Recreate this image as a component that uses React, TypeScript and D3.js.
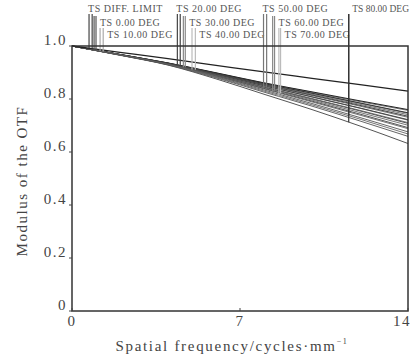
import * as d3 from "d3";

// spatial frequency samples (cycles/mm)
const freqs = [0, 2, 4, 6, 8, 10, 12, 14];

// diffraction limit
const diffLimit = [1, 0.976, 0.952, 0.927, 0.902, 0.878, 0.854, 0.83];

// field angles shown in the legend
const fieldLabels = [
  "TS 0.00 DEG", "TS 10.00 DEG", "TS 20.00 DEG", "TS 30.00 DEG", "TS 40.00 DEG",
  "TS 50.00 DEG", "TS 60.00 DEG", "TS 70.00 DEG", "TS 80.00 DEG",
];

// tangential MTF per field
const tangential = [
  [1, 0.968, 0.936, 0.899, 0.861, 0.827, 0.793, 0.76],
  [1, 0.968, 0.935, 0.897, 0.858, 0.822, 0.785, 0.748],
  [1, 0.967, 0.934, 0.895, 0.854, 0.815, 0.776, 0.735],
  [1, 0.967, 0.933, 0.893, 0.85, 0.808, 0.766, 0.722],
  [1, 0.967, 0.932, 0.89, 0.845, 0.8, 0.755, 0.708],
  [1, 0.966, 0.931, 0.887, 0.84, 0.792, 0.743, 0.692],
  [1, 0.966, 0.93, 0.884, 0.834, 0.783, 0.73, 0.676],
  [1, 0.966, 0.929, 0.88, 0.826, 0.773, 0.717, 0.659],
  [1, 0.965, 0.928, 0.876, 0.818, 0.76, 0.698, 0.632],
];

// sagittal MTF per field
const sagittal = [
  [1, 0.968, 0.936, 0.898, 0.86, 0.825, 0.79, 0.757],
  [1, 0.968, 0.935, 0.897, 0.858, 0.821, 0.784, 0.746],
  [1, 0.968, 0.935, 0.896, 0.856, 0.818, 0.78, 0.741],
  [1, 0.967, 0.934, 0.895, 0.853, 0.813, 0.773, 0.731],
  [1, 0.967, 0.933, 0.893, 0.85, 0.808, 0.765, 0.72],
  [1, 0.967, 0.932, 0.891, 0.846, 0.802, 0.757, 0.711],
  [1, 0.967, 0.932, 0.889, 0.843, 0.796, 0.749, 0.701],
  [1, 0.966, 0.931, 0.886, 0.838, 0.789, 0.739, 0.688],
  [1, 0.966, 0.93, 0.882, 0.83, 0.778, 0.724, 0.668],
];

// frequencies where the legend marker lines hang (T, S)
const diffMarker = [0.71, 0.84];
const markerT = [0.92, 1.17, 4.39, 4.64, 5.0, 7.98, 8.36, 8.62, 11.53];
const markerS = [1.0, 1.3, 4.51, 4.72, 5.14, 8.11, 8.44, 8.69, 11.53];
const markerColors = ["#555", "#aaa", "#444", "#888", "#bbb", "#777", "#888", "#bbb", "#333"];

const xTicks = [0, 7, 14];
const yTicks = [0, 0.2, 0.4, 0.6, 0.8, 1.0];

const W = 411;
const H = 358;
const serif = "'Liberation Serif', 'Times New Roman', serif";

export default function App() {
  const x = d3.scaleLinear().domain([0, 14]).range([72, 408]);
  const y = d3.scaleLinear().domain([0, 1]).range([311, 46]);

  const line = d3
    .line<number>()
    .x((_, i) => x(freqs[i]))
    .y((d) => y(d))
    .curve(d3.curveMonotoneX);

  // value of a curve at a given frequency
  const at = (vals: number[], f: number) => d3.scaleLinear().domain(freqs).range(vals)(f);

  // legend rows: y of each row's baseline
  const rowY = [12, 26, 38];

  const legend = [
    { text: "TS DIFF. LIMIT", t: diffMarker[0], s: diffMarker[1], tv: diffLimit, sv: diffLimit, color: "#444", row: 0 },
    ...fieldLabels.map((text, i) => ({
      text,
      t: markerT[i],
      s: markerS[i],
      tv: tangential[i],
      sv: sagittal[i],
      color: markerColors[i],
      row: i === 8 ? 0 : (i + 1) % 3,
    })),
  ];

  const curveColors = ["#222", "#333", "#444", "#444", "#555", "#555", "#666", "#666", "#555"];

  return (
    <svg
      width={W}
      height={H}
      style={{ position: "absolute", left: 0, top: 0, background: "#fff" }}
      fontFamily={serif}
    >
      {/* MTF curves */}
      {sagittal.map((d, i) => (
        <path key={"s" + i} d={line(d) || ""} fill="none" stroke="#777" strokeWidth={1} />
      ))}
      {tangential.map((d, i) => (
        <path key={"t" + i} d={line(d) || ""} fill="none" stroke={curveColors[i]} strokeWidth={1} />
      ))}
      <path d={line(diffLimit) || ""} fill="none" stroke="#222" strokeWidth={1.3} />

      {/* legend markers and labels */}
      {legend.map((l, i) => {
        const xt = x(l.t);
        const last = i === legend.length - 1;
        const tx = last ? W - 2 : l.row === 0 ? xt - 1 : x(l.s) + 4;
        const top = l.row === 0 ? rowY[0] + 2 : rowY[l.row] - 10;
        return (
          <g key={"lg" + i}>
            <line x1={xt} x2={xt} y1={top} y2={y(at(l.tv, l.t))} stroke={l.color} strokeWidth={1.2} />
            <line x1={x(l.s)} x2={x(l.s)} y1={top} y2={y(at(l.sv, l.s))} stroke={l.color} strokeWidth={1.2} />
            <text
              x={tx}
              y={rowY[l.row]}
              fontSize={last ? 9.5 : 10}
              letterSpacing={last ? 0 : 0.5}
              textAnchor={last ? "end" : "start"}
              fill="#555"
            >
              {l.text}
            </text>
          </g>
        );
      })}

      {/* frame */}
      <rect x={72} y={46} width={336} height={265} fill="none" stroke="#333" strokeWidth={1.5} />

      {/* y ticks */}
      {yTicks.map((t) => (
        <g key={"y" + t}>
          <line x1={69} x2={72} y1={y(t)} y2={y(t)} stroke="#444" />
          <text x={67} y={y(t) - 1} textAnchor="end" fontSize={15} letterSpacing={1.5} fill="#444">
            {t === 0 ? "0" : t.toFixed(1)}
          </text>
        </g>
      ))}

      {/* x ticks */}
      {xTicks.map((t) => (
        <g key={"x" + t}>
          <line x1={x(t)} x2={x(t)} y1={311} y2={308} stroke="#444" />
          <text
            x={t === 14 ? 411 : x(t)}
            y={326}
            textAnchor={t === 14 ? "end" : "middle"}
            fontSize={15}
            letterSpacing={1.5}
            fill="#444"
          >
            {t}
          </text>
        </g>
      ))}

      {/* axis titles */}
      <text x={232} y={351} textAnchor="middle" fontSize={15} letterSpacing={1.7} fill="#444">
        Spatial frequency/cycles·mm
        <tspan fontSize={8} dy={-7}>−1</tspan>
      </text>
      <text
        transform={`translate(27,181) rotate(-90)`}
        textAnchor="middle"
        fontSize={15}
        letterSpacing={1.5}
        fill="#444"
      >
        Modulus of the OTF
      </text>
    </svg>
  );
}
